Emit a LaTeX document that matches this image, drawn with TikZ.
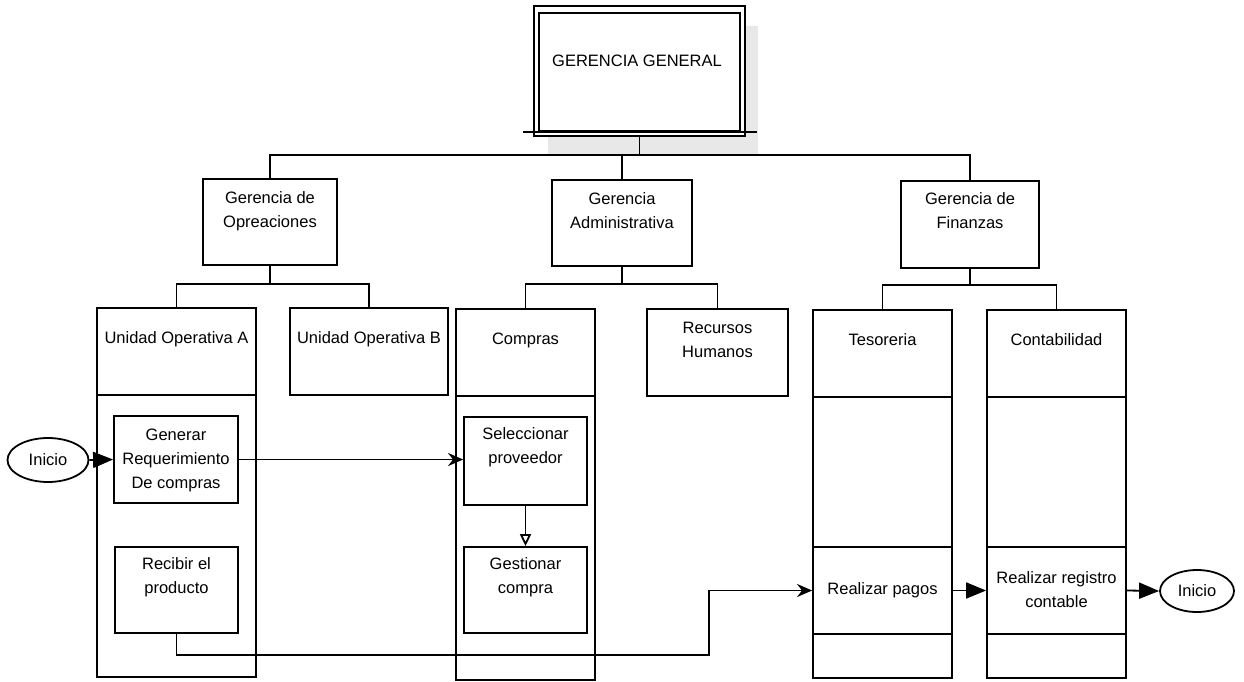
\documentclass[tikz,border=0pt]{standalone}
\usepackage{fontspec}
\setmainfont{Liberation Sans}
\usetikzlibrary{arrows.meta,shapes.geometric}
\begin{document}
\begin{tikzpicture}[x=1pt,y=-1pt,
  line width=1.8pt,
  box/.style={draw, rectangle, inner sep=0pt, fill=white},
  lbl/.style={align=center, inner sep=0pt, font=\fontsize{16.5}{24}\selectfont},
  oval/.style={draw, ellipse, inner sep=0pt, fill=white},
  flow/.style={-{Triangle[length=20pt,width=16pt]}},
  flowthin/.style={-{Stealth[length=15pt,width=13pt]}},
  flowdown/.style={-{Triangle[open,length=12pt,width=11pt]}}
]
\useasboundingbox (0,0) rectangle (1244,682);

% ---- general management box with its shadow ----
\fill[black!9] (745,26) -- (758,26) -- (758,154) -- (548,154) -- (548,137) -- (745,137) -- cycle;
\node[box, minimum width=211pt, minimum height=130pt] (gg) at (639.5,71) {};
\draw[line width=1.4pt] (539,13) rectangle (740,131);
\draw[line width=1.4pt] (523,132) -- (757,132);
\node[lbl] (ggt) at (637,61) {GERENCIA GENERAL};

% ---- second level ----
\node[box, minimum width=134pt, minimum height=86pt] (gop) at (270,222) {};
\node[box, minimum width=140pt, minimum height=86pt] (gad) at (622,223) {};
\node[box, minimum width=138pt, minimum height=87pt] (gfi) at (970,224.5) {};
\node[lbl] (gopt) at (270,211) {Gerencia de\\Opreaciones};
\node[lbl] (gadt) at (622,211) {Gerencia\\Administrativa};
\node[lbl] (gfit) at (970,211) {Gerencia de\\Finanzas};

\coordinate (bus) at (639.5,155);
\draw (gg.south) -- (bus);
\draw (gop.north) |- (bus) -| (gfi.north);
\draw (gad.north) -- (gad.north |- bus);

% ---- units ----
\node[box, minimum width=159pt, minimum height=87pt] (ua) at (176.5,351.5) {};
\node[box, minimum width=159pt, minimum height=282pt] (uab) at (176.5,536) {};
\node[box, minimum width=158pt, minimum height=87pt] (ub) at (369,351.5) {};
\node[box, minimum width=139pt, minimum height=87pt] (comh) at (525.5,352.5) {};
\node[box, minimum width=139pt, minimum height=284pt] (comb) at (525.5,538) {};
\node[box, minimum width=141pt, minimum height=87pt] (rh) at (717.5,352.5) {};

\node[box, minimum width=139pt, minimum height=87pt] (tesh) at (882.5,353.5) {};
\node[box, minimum width=139pt, minimum height=150pt] (tesm) at (882.5,472) {};
\node[box, minimum width=139pt, minimum height=87pt] (pag) at (882.5,590.5) {};
\node[box, minimum width=139pt, minimum height=44pt] (tesb) at (882.5,656) {};

\node[box, minimum width=139pt, minimum height=87pt] (conh) at (1056.5,353.5) {};
\node[box, minimum width=139pt, minimum height=150pt] (conm) at (1056.5,472) {};
\node[box, minimum width=139pt, minimum height=87pt] (reg) at (1056.5,590.5) {};
\node[box, minimum width=139pt, minimum height=44pt] (conb) at (1056.5,656) {};

\node[lbl] (uat) at (176.5,339) {Unidad Operativa A};
\node[lbl] (ubt) at (369,339) {Unidad Operativa B};
\node[lbl] (comt) at (525.5,340) {Compras};
\node[lbl] (rht) at (717.5,340) {Recursos\\Humanos};
\node[lbl] (test) at (882.5,340) {Tesoreria};
\node[lbl] (cont) at (1056.5,340) {Contabilidad};

% branch connectors
\draw (gop.south) -- ++(0,18) coordinate (jop);
\draw (ua.north) |- (jop) -| (ub.north);
\draw (gad.south) -- ++(0,17) coordinate (jad);
\draw (comh.north) |- (jad) -| (rh.north);
\draw (gfi.south) -- ++(0,16) coordinate (jfi);
\draw (tesh.north) |- (jfi) -| (conh.north);

% ---- process steps ----
\node[box, minimum width=124pt, minimum height=87pt] (gen) at (176,459.5) {};
\node[box, minimum width=123pt, minimum height=86pt] (rec) at (176.5,590) {};
\node[box, minimum width=123pt, minimum height=88pt] (sel) at (525.5,461) {};
\node[box, minimum width=123pt, minimum height=86pt] (ges) at (525.5,590) {};

\node[lbl] (gent) at (176,460) {Generar\\Requerimiento\\De compras};
\node[lbl] (rect) at (176.5,577) {Recibir el\\producto};
\node[lbl] (selt) at (525.5,447.5) {Seleccionar\\proveedor};
\node[lbl] (gest) at (525.5,577.5) {Gestionar\\compra};
\node[lbl] (pagt) at (882.5,590) {Realizar pagos};
\node[lbl] (regt) at (1056.5,590) {Realizar registro\\contable};

\node[oval, minimum width=81pt, minimum height=44pt] (ini1) at (48,460) {};
\node[lbl] (ini1t) at (48,460) {Inicio};
\node[oval, minimum width=74pt, minimum height=42pt] (ini2) at (1197,591) {};
\node[lbl] (ini2t) at (1197,591) {Inicio};

% ---- flow ----
\draw[flow] (ini1.east) -- (gen.west);
\draw[flowthin] (gen.east) -- (gen.east -| sel.west);
\draw[flowdown] (sel.south) -- (ges.north);
\coordinate (turn) at (709,655);
\draw[flowthin] (rec.south) |- (turn) |- (pag.west);
\draw[flow] (pag.east) -- (reg.west);
\draw[flow] (reg.east) -- (ini2.west);
\end{tikzpicture}
\end{document}
